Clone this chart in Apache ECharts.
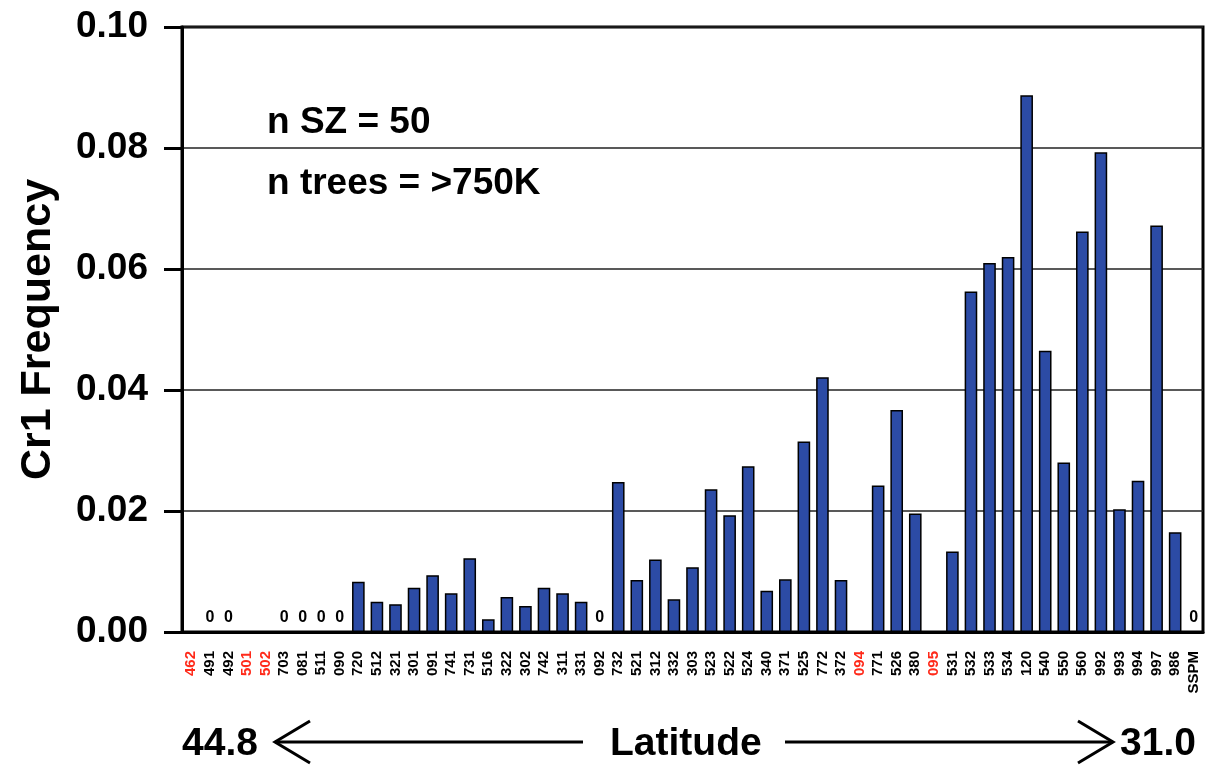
<!DOCTYPE html>
<html>
<head>
<meta charset="utf-8">
<script src="https://cdn.jsdelivr.net/npm/echarts@6/dist/echarts.min.js"></script>
<style>
  html, body { margin: 0; padding: 0; background: #fff; }
  #chart { width: 1209px; height: 766px; }
</style>
</head>
<body>
<div id="chart"></div>
<script>
// seed zones, north (44.8) to south (31.0)
var zones = ['462', '491', '492', '501', '502', '703', '081', '511', '090', '720',
    '512', '321', '301', '091', '741', '731', '516', '322', '302', '742',
    '311', '331', '092', '732', '521', '312', '332', '303', '523', '522',
    '524', '340', '371', '525', '772', '372', '094', '771', '526', '380',
    '095', '531', '532', '533', '534', '120', '540', '550', '560', '992',
    '993', '994', '997', '986', 'SSPM'];
// zones drawn in red (no sample)
var redZones = ['462', '501', '502', '094', '095'];
// Cr1 frequency, null = no data
var freq = [null, 0, 0, null, null, 0, 0, 0, 0, 0.0083,
    0.0050, 0.0046, 0.0073, 0.0094, 0.0064, 0.0122, 0.0021, 0.0058, 0.0043, 0.0073,
    0.0064, 0.0050, 0, 0.0248, 0.0086, 0.0120, 0.0054, 0.0107, 0.0236, 0.0193,
    0.0274, 0.0068, 0.0087, 0.0315, 0.0421, 0.0086, null, 0.0242, 0.0367, 0.0196,
    null, 0.0133, 0.0563, 0.0610, 0.0620, 0.0887, 0.0465, 0.0280, 0.0662, 0.0793,
    0.0203, 0.0250, 0.0672, 0.0165, 0];
var yTicks = [0, 0.02, 0.04, 0.06, 0.08, 0.10];

var FONT = '"Liberation Sans", Arial, sans-serif';
var chart = echarts.init(document.getElementById('chart'));

function txt(s, x, y, size) {
    return {
        type: 'text', left: x, top: y,
        style: { text: s, fontSize: size, fontWeight: 'bold', fill: '#000', fontFamily: FONT }
    };
}

var option = {
    animation: false,
    backgroundColor: '#fff',
    textStyle: { fontFamily: FONT },
    grid: {
        left: 182, right: 6, top: 27, bottom: 134,
        show: true, borderColor: '#000', borderWidth: 3
    },
    xAxis: {
        type: 'category',
        data: zones,
        axisLine: { lineStyle: { color: '#000', width: 3 } },
        axisTick: { length: 15, lineStyle: { color: '#000', width: 3 } },
        axisLabel: {
            interval: 0,
            rotate: 90,
            margin: 19,
            fontSize: 15,
            fontWeight: 'bold',
            fontFamily: FONT,
            color: function (v) {
                return redZones.indexOf(v) >= 0 ? '#ff2a1a' : '#000';
            }
        }
    },
    yAxis: {
        type: 'value',
        min: yTicks[0],
        max: yTicks[yTicks.length - 1],
        interval: 0.02,
        name: 'Cr1 Frequency',
        nameLocation: 'middle',
        nameGap: 122,
        nameTextStyle: { fontSize: 43, fontWeight: 'bold', color: '#000', fontFamily: FONT },
        axisLine: { show: true, lineStyle: { color: '#000', width: 3 } },
        axisTick: { show: true, length: 18, lineStyle: { color: '#000', width: 3 } },
        axisLabel: {
            margin: 34,
            fontSize: 37,
            fontWeight: 'bold',
            color: '#000',
            fontFamily: FONT,
            formatter: function (v) { return v.toFixed(2); }
        },
        splitLine: { lineStyle: { color: '#222', width: 1.5 } }
    },
    series: [{
        type: 'bar',
        data: freq,
        barCategoryGap: '32%',
        itemStyle: { color: '#2c4ba5', borderColor: '#000', borderWidth: 1.5 },
        label: {
            show: true,
            position: 'top',
            distance: 6,
            fontSize: 16,
            fontWeight: 'bold',
            color: '#000',
            fontFamily: FONT,
            formatter: function (p) { return p.value === 0 ? '0' : ''; }
        }
    }],
    graphic: [
        txt('n SZ = 50', 267, 104, 37),
        txt('n trees = >750K', 267, 165, 37),
        txt('44.8', 182, 725, 39),
        txt('Latitude', 610, 725, 39),
        txt('31.0', 1120, 725, 39),
        // left arrow
        { type: 'polyline', shape: { points: [[583, 742], [275, 742]] },
          style: { stroke: '#000', lineWidth: 3 } },
        { type: 'polyline', shape: { points: [[310, 721], [275, 742], [310, 763]] },
          style: { stroke: '#000', lineWidth: 3, fill: null } },
        // right arrow
        { type: 'polyline', shape: { points: [[785, 742], [1113, 742]] },
          style: { stroke: '#000', lineWidth: 3 } },
        { type: 'polyline', shape: { points: [[1078, 721], [1113, 742], [1078, 763]] },
          style: { stroke: '#000', lineWidth: 3, fill: null } }
    ]
};

chart.setOption(option);
</script>
</body>
</html>
